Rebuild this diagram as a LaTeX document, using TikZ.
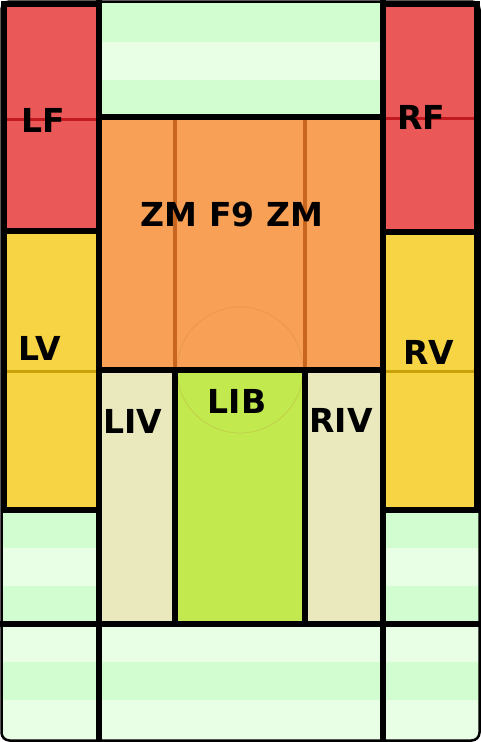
\documentclass[tikz,border=0pt]{standalone}
\usepackage{fontspec}
\setsansfont{DejaVu Sans}
\definecolor{cgrassdark}{HTML}{D2FDD0}
\definecolor{cgrasslight}{HTML}{E8FFE6}
\definecolor{cred}{HTML}{EA5858}
\definecolor{credline}{HTML}{C0191E}
\definecolor{cyellow}{HTML}{F6D443}
\definecolor{cyellowline}{HTML}{C9A20A}
\definecolor{corange}{HTML}{F8A055}
\definecolor{corangeline}{HTML}{C8651E}
\definecolor{clime}{HTML}{C2EA4E}
\definecolor{cbeige}{HTML}{EAE8BD}
\tikzset{
  every picture/.style={font=\sffamily\bfseries\fontsize{33}{33}\selectfont},
  stripe/.style={fill=cgrassdark},
  midline/.style={draw=#1, line width=3pt},
  divider/.style={draw=black, line width=5.5pt},
  poslabel/.style={inner sep=0pt, text=black},
}

\begin{document}
\begin{tikzpicture}[x=1pt, y=-1pt]
  \useasboundingbox (0,0) rectangle (481,742);
  \fill[cgrasslight, rounded corners=8pt] (1.5,1.5) rectangle (479.5,740.5);
  \foreach \xa/\ya/\xb/\yb in {99/2/383/42, 99/80/383/117, 2/510/99/548, 2/586/99/624, 383/510/479/548, 383/586/479/624, 2/662/479/700}
    \fill[stripe] (\xa,\ya) rectangle (\xb,\yb);

  \fill[cred] (4,4) rectangle (99,231);
  \fill[cred] (383,4) rectangle (477,232);
  \draw[midline=credline] (6.5,119) -- (96.5,119);
  \draw[midline=credline] (385.5,118) -- (474.5,118);
  \fill[cyellow] (4,231) rectangle (99,510);
  \fill[cyellow] (383,232) rectangle (477,510);
  \draw[midline=cyellowline] (6.5,371) -- (96.5,371);
  \draw[midline=cyellowline] (385.5,371) -- (474.5,371);
  \fill[corange] (99,117) rectangle (383,370);
  \draw[midline=corangeline, line width=4pt] (175,119.5) -- (175,367.5);
  \draw[midline=corangeline, line width=4pt] (305,119.5) -- (305,367.5);
  \fill[cbeige] (99,370) rectangle (175,623);
  \fill[clime] (175,370) rectangle (305,623);
  \fill[cbeige] (305,370) rectangle (383,623);
  \draw[brown, opacity=.25, line width=.8pt] (240,370) circle (63);

  \draw[divider] (4,4) rectangle (99,231) (383,4) rectangle (477,232);
  \draw[divider] (4,231) rectangle (99,510) (383,232) rectangle (477,510);
  \draw[divider] (99,117) rectangle (383,370);
  \draw[divider] (175,370) -- (175,623) (305,370) -- (305,623);
  \draw[divider] (99,0) -- (99,742) (383,0) -- (383,742);
  \draw[divider] (0,624) -- (481,624);
  \draw[line width=2.5pt, rounded corners=8pt] (1.5,1.5) rectangle (479.5,740.5);

  \node[poslabel] (lf) at (43,120) {LF};
  \node[poslabel] (rf) at (421,117) {RF};
  \node[poslabel] (zm) at (232,214) {ZM F9 ZM};
  \node[poslabel] (lv) at (40,348) {LV};
  \node[poslabel] (rv) at (429,352) {RV};
  \node[poslabel] (lib) at (237,401) {LIB};
  \node[poslabel] (liv) at (133,421) {LIV};
  \node[poslabel] (riv) at (341,420) {RIV};
\end{tikzpicture}
\end{document}
